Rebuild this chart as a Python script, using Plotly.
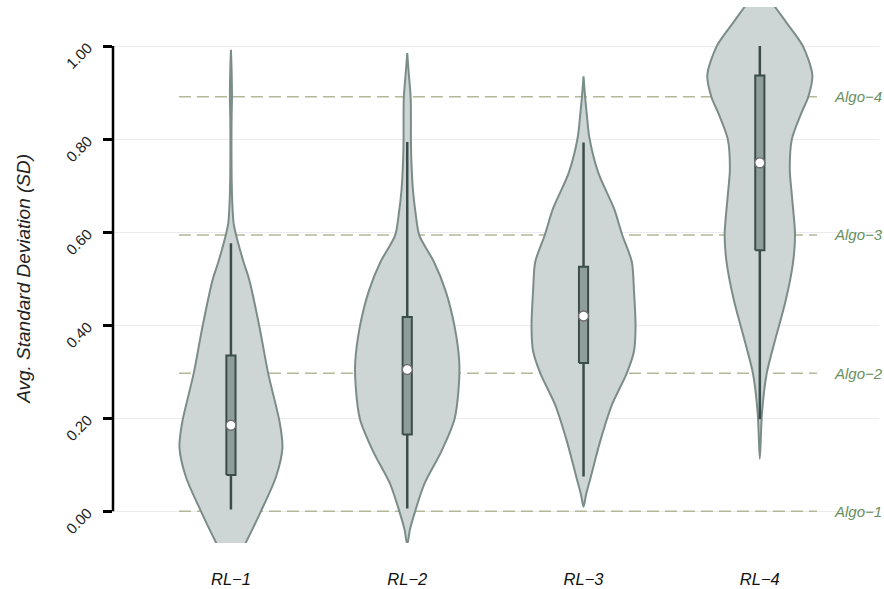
import plotly.graph_objects as go

# ---------------- data ----------------
categories = ["RL\u22121", "RL\u22122", "RL\u22123", "RL\u22124"]

# violin outlines: y positions and relative density (half-width, 0..1)
rl1_y = [-0.13, -0.068, 0.0, 0.075, 0.137, 0.19, 0.296, 0.398, 0.497, 0.536, 0.593, 0.62, 0.666, 0.72, 0.804, 0.85, 0.891, 0.95, 0.992]
rl1_d = [0.0, 0.28, 0.57, 0.86, 0.98, 0.93, 0.71, 0.54, 0.35, 0.24, 0.10, 0.05, 0.025, 0.013, 0.01, 0.013, 0.02, 0.012, 0.0]

rl2_y = [-0.071, -0.04, 0.0, 0.06, 0.129, 0.198, 0.267, 0.321, 0.398, 0.474, 0.536, 0.593, 0.64, 0.689, 0.75, 0.80, 0.84, 0.89, 0.94, 0.985]
rl2_d = [0.0, 0.05, 0.15, 0.33, 0.65, 0.90, 0.98, 0.99, 0.90, 0.73, 0.51, 0.23, 0.16, 0.11, 0.08, 0.07, 0.07, 0.065, 0.03, 0.0]

rl3_y = [0.01, 0.037, 0.075, 0.152, 0.229, 0.296, 0.344, 0.398, 0.474, 0.536, 0.593, 0.651, 0.728, 0.804, 0.85, 0.891, 0.935]
rl3_d = [0.0, 0.05, 0.14, 0.32, 0.54, 0.82, 0.96, 0.99, 0.96, 0.92, 0.74, 0.58, 0.28, 0.11, 0.065, 0.03, 0.0]

rl4_y = [0.113, 0.21, 0.296, 0.372, 0.452, 0.533, 0.594, 0.679, 0.735, 0.80, 0.856, 0.89, 0.937, 1.0, 1.05, 1.084, 1.13]
rl4_d = [0.0, 0.04, 0.13, 0.30, 0.49, 0.63, 0.67, 0.61, 0.57, 0.61, 0.79, 0.92, 1.0, 0.82, 0.51, 0.29, 0.0]

# box-plot statistics
q1 = [0.078, 0.165, 0.319, 0.561]
median = [0.185, 0.305, 0.420, 0.749]
q3 = [0.335, 0.418, 0.526, 0.937]
whisker_lo = [0.004, 0.006, 0.075, 0.198]
whisker_hi = [0.576, 0.794, 0.793, 1.000]

# reference algorithm levels
algo_labels = ["Algo\u22121", "Algo\u22122", "Algo\u22123", "Algo\u22124"]
algo_values = [0.0, 0.297, 0.594, 0.891]

y_ticks = [0.0, 0.2, 0.4, 0.6, 0.8, 1.0]
y_ticktext = ["0.00", "0.20", "0.40", "0.60", "0.80", "1.00"]

# ---------------- styling ----------------
VIOLIN_HALF = 0.298
BOX_HALF = 0.026
violin_fill = "#ced6d5"
violin_line = "#7b8d89"
box_fill = "#8f9e9a"
dark = "#3b4d4a"
dash_col = "#b2b898"
algo_col = "#6a8f5e"
FONT = "Liberation Sans, Arial, sans-serif"

outlines = [(rl1_y, rl1_d), (rl2_y, rl2_d), (rl3_y, rl3_d), (rl4_y, rl4_d)]
positions = [1, 2, 3, 4]

fig = go.Figure()

for pos, (ys, ds) in zip(positions, outlines):
    xs_r = [pos + d * VIOLIN_HALF for d in ds]
    xs_l = [pos - d * VIOLIN_HALF for d in reversed(ds)]
    fig.add_trace(go.Scatter(
        x=xs_r + xs_l, y=list(ys) + list(reversed(ys)),
        mode="lines", fill="toself", fillcolor=violin_fill,
        line=dict(color=violin_line, width=2, shape="spline", smoothing=0.8),
        hoverinfo="skip", showlegend=False))

for i, pos in enumerate(positions):
    fig.add_trace(go.Scatter(
        x=[pos, pos], y=[whisker_lo[i], whisker_hi[i]], mode="lines",
        line=dict(color=dark, width=2.5), showlegend=False, hoverinfo="skip"))
    fig.add_trace(go.Scatter(
        x=[pos - BOX_HALF, pos + BOX_HALF, pos + BOX_HALF, pos - BOX_HALF, pos - BOX_HALF],
        y=[q1[i], q1[i], q3[i], q3[i], q1[i]], mode="lines", fill="toself",
        fillcolor=box_fill, line=dict(color=dark, width=2),
        showlegend=False, hoverinfo="skip"))

fig.add_trace(go.Scatter(
    x=positions, y=median, mode="markers",
    marker=dict(size=10, color="white", line=dict(color="#6e6e6e", width=1.5)),
    showlegend=False, hoverinfo="skip"))

shapes = []
for v in algo_values:
    shapes.append(dict(type="line", xref="x", yref="y", x0=0.705, x1=4.324, y0=v, y1=v,
                       line=dict(color=dash_col, width=1.5, dash="12px,6px"), layer="between"))
shapes.append(dict(type="line", xref="paper", yref="y", x0=0, x1=0, y0=0, y1=1,
                   line=dict(color="black", width=2.5)))

annotations = []
for lab, v in zip(algo_labels, algo_values):
    annotations.append(dict(x=4.409, y=v, xref="x", yref="y", text=lab, showarrow=False,
                            xanchor="left", yanchor="middle",
                            font=dict(family=FONT, size=15, color=algo_col, style="italic")))
# rotated y tick labels (45 degrees)
for t, txt in zip(y_ticks, y_ticktext):
    annotations.append(dict(x=-0.0444, y=t, xref="paper", yref="y", text=txt, showarrow=False,
                            textangle=-45, xanchor="center", yanchor="middle", yshift=-9,
                            font=dict(family=FONT, size=15, color="#222222")))
annotations.append(dict(x=-0.116, y=0.5, xref="paper", yref="y",
                        text="Avg. Standard Deviation (SD)", showarrow=False, textangle=-90,
                        xanchor="center", yanchor="middle",
                        font=dict(family=FONT, size=19, color="#222222", style="italic")))

fig.update_layout(
    width=884, height=589,
    margin=dict(l=113, r=5, t=7, b=46, autoexpand=False),
    paper_bgcolor="white", plot_bgcolor="white",
    shapes=shapes, annotations=annotations,
    font=dict(family=FONT),
    xaxis=dict(range=[0.331, 4.676], tickvals=positions, ticktext=categories,
               showgrid=False, zeroline=False, showline=False, ticks="",
               ticklabelstandoff=24, automargin=False,
               tickfont=dict(family=FONT, size=16.5, color="#111111", style="italic")),
    yaxis=dict(range=[-0.068, 1.084], tickvals=y_ticks, ticktext=y_ticktext,
               showticklabels=False, automargin=False,
               showgrid=True, gridcolor="#ebebeb", gridwidth=1, zeroline=False,
               showline=False, ticks="outside", ticklen=9, tickwidth=2.5, tickcolor="black"),
)

fig.write_html("out.html", config={"displayModeBar": False},
               post_script="document.body.style.margin='0px';document.body.style.overflow='hidden';")
